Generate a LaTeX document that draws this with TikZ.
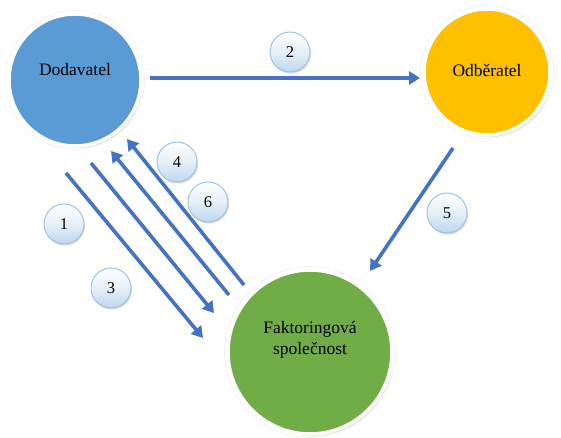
\documentclass[tikz,border=0pt]{standalone}
\usepackage{fontspec}
\setmainfont{Liberation Serif}
\newfontfamily\lserif{Liberation Serif}
\usetikzlibrary{arrows.meta,shadows}
\definecolor{cblue}{HTML}{5B9BD5}
\definecolor{cgold}{HTML}{FFC000}
\definecolor{cgreen}{HTML}{70AD47}
\definecolor{carrow}{HTML}{4472C4}
\definecolor{lblb}{HTML}{9DC3E6}
\definecolor{lblf}{HTML}{BDD7EE}
\definecolor{rimc}{HTML}{EDF0F2}
\tikzset{
  big/.style={circle, draw=white, line width=3.5pt, minimum size=#1,
    drop shadow={shadow xshift=1.5pt, shadow yshift=-2pt, fill=black!35, opacity=0.5},
    inner sep=0pt},
  rim/.style={circle, draw=rimc, line width=0.6pt, minimum size=#1, inner sep=0pt},
  bigtxt/.style={font=\lserif\fontsize{17.5}{21}\selectfont, align=center},
  lbl/.style={circle, draw=lblb, line width=1pt, minimum size=40pt, inner sep=0pt,
    top color=white, bottom color=lblf, middle color=lblf!40,
    drop shadow={shadow xshift=1pt, shadow yshift=-1.5pt, fill=black!30, opacity=0.5},
    font=\lserif\fontsize{16.5}{19}\selectfont},
  arr/.style={draw=carrow, line width=3.6pt, -{Triangle[length=11pt,width=13pt]}},
}
\begin{document}
\begin{tikzpicture}[x=1pt,y=-1pt]
\useasboundingbox (0,0) rectangle (561,437);
\node[big=132pt, fill=cblue] (dod) at (75,80) {};
\node[rim=139pt] (dodrim) at (75,80) {};
\node[bigtxt] (dodtxt) at (75,70) {Dodavatel};
\node[big=126pt, fill=cgold] (odb) at (487,72) {};
\node[rim=133pt] (odbrim) at (487,72) {};
\node[bigtxt] (odbtxt) at (487,70) {Odběratel};
\node[big=164pt, fill=cgreen] (fak) at (310,352) {};
\node[rim=171pt] (fakrim) at (310,352) {};
\node[bigtxt] (faktxt) at (310,340) {Faktoringová\\společnost};

\coordinate (a2s) at (150,78);
\coordinate (a2e) at (420,78);
\coordinate (a5s) at (453,148);
\coordinate (a5e) at (370,271);
\coordinate (a1s) at (66,173);
\coordinate (a1e) at (203,338);
\coordinate (a3s) at (91,163);
\coordinate (a3e) at (214,313);
\coordinate (a4s) at (229,295);
\coordinate (a4e) at (111,151);
\coordinate (a6s) at (244,285);
\coordinate (a6e) at (127,139);

\draw[arr] (a2s) -- (a2e);
\draw[arr] (a5s) -- (a5e);
\draw[arr] (a1s) -- (a1e);
\draw[arr] (a3s) -- (a3e);
\draw[arr] (a4s) -- (a4e);
\draw[arr] (a6s) -- (a6e);

\node[lbl] (l1) at (64,224) {1};
\node[lbl] (l2) at (290,52) {2};
\node[lbl] (l3) at (111,288) {3};
\node[lbl] (l4) at (177,162) {4};
\node[lbl] (l5) at (447,213) {5};
\node[lbl] (l6) at (208,202) {6};
\end{tikzpicture}
\end{document}
